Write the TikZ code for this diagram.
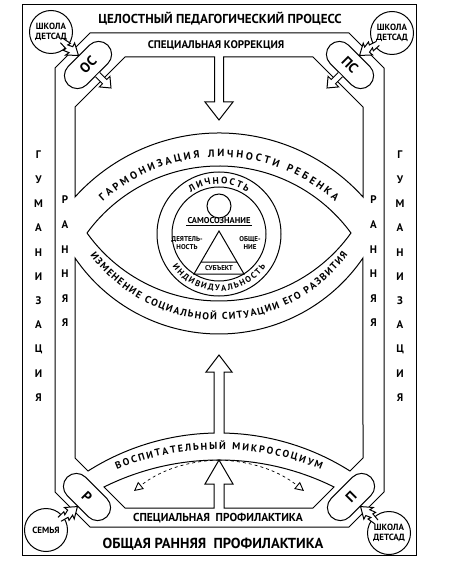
\documentclass[tikz,border=0pt]{standalone}
\usepackage{fontspec}
\setmainfont{PT Sans}
\usepackage{tikz}
\usetikzlibrary{arrows.meta,positioning,calc,shapes.misc,decorations.text}

\tikzset{
  fsz/.style={font=\bfseries\fontsize{#1}{#1}\selectfont},
  lab/.style={fsz=#1,inner sep=0pt},
  ring/.style={circle,draw,fill=white,inner sep=0pt,minimum size=43pt,align=center,
    font=\bfseries\fontsize{9}{9.5}\selectfont},
  pill/.style={rounded rectangle,draw,fill=white,inner sep=0pt,minimum width=56pt,minimum height=26pt},
  arctext/.style 2 args={decorate,decoration={text along path,text align=fit to path,
      text={|\bfseries\fontsize{#1}{#1}\selectfont|#2}}},
  zig/.pic={
    \fill[white] (0,2) -- (8,3) -- (7,6) -- (13,4) -- (12,8) -- (22,0) -- (11,-7) -- (12,-3) -- (7,-1) -- (8,-4) -- (0,-3) -- cycle;
    \draw (0,2) -- (8,3) -- (7,6) -- (13,4) -- (12,8) -- (22,0) -- (11,-7) -- (12,-3) -- (7,-1) -- (8,-4) -- (0,-3);
  },
  tail/.pic={
    \fill[white] (0,3) -- (10,3) -- (10,7.5) -- (19,0) -- (10,-7.5) -- (10,-3) -- (0,-3) -- cycle;
    \draw (0,3) -- (10,3) -- (10,7.5) -- (19,0) -- (10,-7.5) -- (10,-3) -- (0,-3);
  }
}
% lightning arrow: circle #1 -> anchor #2
\newcommand\zigto[2]{\path let \p1=($(#2)-(#1)$) in ($(#2)!22pt!(#1)$) pic[rotate={atan2(\y1,\x1)}] {zig};}

\begin{document}
\begin{tikzpicture}[x=1pt,y=-1pt,line width=1pt,line join=miter]
  \fill[white] (0,0) rectangle (448,569);
  \useasboundingbox (0,0) rectangle (448,569);
  \coordinate (cU) at (219,329.5);   % text centre, upper band
  \coordinate (cL) at (219,159.6);   % text centre, lower band
  \coordinate (cM) at (219,718.4);   % text centre, microsocium
  \coordinate (cR) at (219,234);     % personality rings
  % frame and outer octagon
  \draw (22,5) rectangle (416,555);
  \draw (90,33) -- (349,33) -- (384,68) -- (384,492) -- (349,527) -- (90,527) -- (55,492) -- (55,68) -- cycle;
  % inner octagon, top half with the down arrow
  \draw (75,197) arc[start angle=222.07,end angle=317.93,radius=194]
        -- (363,107) -- (313,57) -- (223.5,57) -- (223.5,102) -- (233,102) -- (219,120)
        -- (205,102) -- (214.5,102) -- (214.5,57) -- (125,57) -- (75,107) -- cycle;
  % eye
  \draw (87,233) arc[start angle=216.17,end angle=323.83,radius=163.5]
        arc[start angle=35.49,end angle=144.51,radius=162.1];
  % inner octagon, lower half with the middle up arrow
  \draw (75,258) arc[start angle=145.65,end angle=34.35,radius=174.4] -- (363,458) -- (350,471)
        arc[start angle=302.35,end angle=271.17,radius=244.8] -- (224,372) -- (232,372) -- (219,355)
        -- (206,372) -- (214,372) -- (214,433.05) arc[start angle=268.83,end angle=237.65,radius=244.8]
        -- (75,458) -- cycle;
  \draw (104,487) arc[start angle=243.57,end angle=296.43,radius=258.4] -- (313,508) -- (224,508)
        -- (224,484) -- (233,484) -- (219,460) coordinate (tipup) -- (205,484) -- (214,484) -- (214,508) -- (125,508) -- cycle;
  % personality
  \draw (cR) circle[radius=62] (cR) circle[radius=47];
  \node[circle,draw,minimum size=24pt,inner sep=0pt] (head) at (219,206) {};
  \draw (219,231) -- (244,274) -- (194,274) -- cycle (201,262) -- (237,262);
  \node[lab=8.5,inner sep=1pt] (samo) at (219,221) {САМОСОЗНАНИЕ};
  \draw[line width=0.7pt] (samo.south west) -- (samo.south east);
  \node[lab=7,align=center,font=\bfseries\fontsize{7}{8}\selectfont] (deyat) at (187,243) {ДЕЯТЕЛЬ-\\НОСТЬ};
  \node[lab=7,align=center,font=\bfseries\fontsize{7}{8}\selectfont] (obsch) at (250,243) {ОБЩЕ-\\НИЕ};
  \node[lab=7] (subj) at (219,268.5) {СУБЪЕКТ};
  % dashed returns
  \coordinate (dl) at (134,491);
  \coordinate (dr) at (304,491);
  \draw[dashed,line width=0.7pt,-{Triangle[open,length=9pt,width=9pt,line width=0.9pt]}]
    (tipup) .. controls (188,461) and (160,470) .. (dl);
  \draw[dashed,line width=0.7pt,-{Triangle[open,length=9pt,width=9pt,line width=0.9pt]}]
    (tipup) .. controls (250,461) and (278,470) .. (dr);
  % corner pills and circles
  \node[pill,rotate=45] (os) at (88,65) {};
  \node[pill,rotate=-45] (ps) at (350,65) {};
  \node[pill,rotate=-45] (rr) at (87,497) {};
  \node[pill,rotate=45] (pp) at (351,497) {};
  \node[lab=14,rotate=45] (ost) at (os) {ОС};
  \node[lab=14,rotate=-45] (pst) at (ps) {ПС};
  \node[lab=14,rotate=-45] (rrt) at (rr) {Р};
  \node[lab=14,rotate=45] (ppt) at (pp) {П};
  \node[ring] (sk1) at (51,32) {ШКОЛА\\ДЕТСАД};
  \node[ring] (sk2) at (392,33) {ШКОЛА\\ДЕТСАД};
  \node[ring] (sem) at (46,530) {СЕМЬЯ};
  \node[ring] (sk3) at (389,533) {ШКОЛА\\ДЕТСАД};
  \zigto{sk1}{os.north}
  \zigto{sk2}{ps.north}
  \zigto{sem}{rr.south}
  \zigto{sk3}{pp.south}
  \path (os.south) pic[rotate=-45] {tail};
  \path (ps.south) pic[rotate=-135] {tail};
  % band labels
  \node[lab=13] (proc) at (220,19) {ЦЕЛОСТНЫЙ ПЕДАГОГИЧЕСКИЙ ПРОЦЕСС};
  \node[lab=11] (corr) at (216,45) {СПЕЦИАЛЬНАЯ КОРРЕКЦИЯ};
  \node[lab=11.5] (sprof) at (218,518) {СПЕЦИАЛЬНАЯ\enspace ПРОФИЛАКТИКА};
  \node[lab=14.5] (oprof) at (213,544) {ОБЩАЯ РАННЯЯ\enspace ПРОФИЛАКТИКА};
  \foreach \ch [count=\i from 0] in {Г,У,М,А,Н,И,З,А,Ц,И,Я} {
    \node[lab=11] (gl\i) at (38.5,155+24.3*\i) {\ch};
    \node[lab=11] (gr\i) at (400,155+24.3*\i) {\ch};
  }
  \foreach \ch [count=\i from 0] in {Р,А,Н,Н,Я,Я} {
    \node[lab=11] (rl\i) at (65,200+24.6*\i) {\ch};
    \node[lab=11] (rr\i) at (373.5,200+24.6*\i) {\ch};
  }
  % curved labels
  \path[arctext={10.5}{ГАРМОНИЗАЦИЯ ЛИЧНОСТИ РЕБЕНКА}] ($(cU)+(227.74:172.5)$) arc[start angle=227.74,end angle=312.26,radius=172.5];
  \path[arctext={10}{ИЗМЕНЕНИЕ СОЦИАЛЬНОЙ СИТУАЦИИ ЕГО РАЗВИТИЯ}] ($(cL)+(143.5:160.4)$) arc[start angle=143.5,end angle=36.5,radius=160.4];
  \path[arctext={10}{ВОСПИТАТЕЛЬНЫЙ МИКРОСОЦИУМ}] ($(cM)+(247.7:269)$) arc[start angle=247.7,end angle=292.3,radius=269];
  \path[arctext={9.5}{ЛИЧНОСТЬ}] ($(cR)+(236:50)$) arc[start angle=236,end angle=304,radius=50];
  \path[arctext={8.5}{ИНДИВИДУАЛЬНОСТЬ}] ($(cR)+(145:57)$) arc[start angle=145,end angle=35,radius=57];
\end{tikzpicture}
\end{document}
